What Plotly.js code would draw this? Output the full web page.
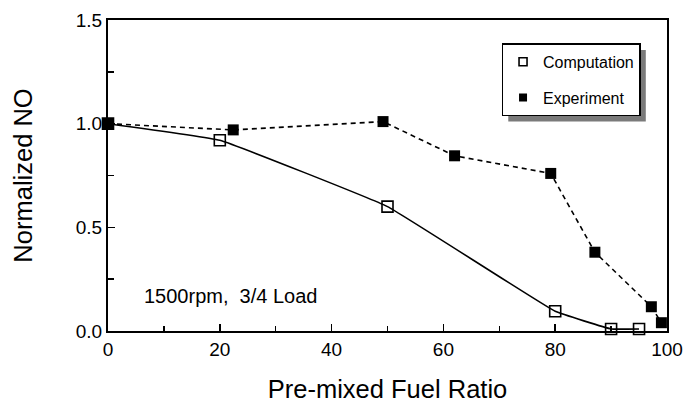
<!DOCTYPE html>
<html>
<head>
<meta charset="utf-8">
<script src="https://cdn.plot.ly/plotly-3.0.1.min.js"></script>
<style>html,body{margin:0;padding:0;background:#fff;}#chart{width:688px;height:403px;}</style>
</head>
<body>
<div id="chart"></div>
<script>
// Data
const compX = [0, 20, 50, 80, 90, 95];
const compY = [1.0, 0.92, 0.60, 0.095, 0.01, 0.01];
const expX = [0, 22.4, 49.2, 62, 79.2, 87.1, 97.2, 99];
const expY = [1.0, 0.97, 1.01, 0.845, 0.76, 0.38, 0.117, 0.04];
const seriesNames = ["Computation", "Experiment"];
const xTicks = [0, 20, 40, 60, 80, 100];
const yTicks = [0.0, 0.5, 1.0, 1.5];
const yTickText = ["0.0", "0.5", "1.0", "1.5"];
const noteText = "1500rpm,\u00a0\u00a03/4 Load";

const FONT = "Liberation Sans, Arial, Helvetica, sans-serif";

const traces = [
  {
    x: compX, y: compY, name: seriesNames[0], type: "scatter", mode: "lines+markers",
    line: {color: "#000", width: 1.6, shape: "spline", smoothing: 0.25},
    marker: {symbol: "square-open", size: 11, color: "#000", line: {width: 1.6, color: "#000"}},
    cliponaxis: false, showlegend: false
  },
  {
    x: expX, y: expY, name: seriesNames[1], type: "scatter", mode: "lines+markers",
    line: {color: "#000", width: 1.6, dash: "5px,4px"},
    marker: {symbol: "square", size: 11, color: "#000"},
    cliponaxis: false, showlegend: false
  },
  // legend proxies (markers only, as in the reference legend)
  {
    x: [null], y: [null], name: seriesNames[0], type: "scatter", mode: "markers",
    marker: {symbol: "square-open", size: 8, color: "#000", line: {width: 1.6, color: "#000"}},
    legendgroup: "a"
  },
  {
    x: [null], y: [null], name: seriesNames[1], type: "scatter", mode: "markers",
    marker: {symbol: "square", size: 8, color: "#000"},
    legendgroup: "b"
  }
];

const layout = {
  width: 688, height: 403,
  margin: {l: 108, r: 21, t: 20, b: 72},
  paper_bgcolor: "#fff", plot_bgcolor: "#fff",
  font: {family: FONT, color: "#000", size: 19},
  showlegend: true,
  legend: {
    x: 0.704, y: 0.925, xanchor: "left", yanchor: "top",
    bgcolor: "#fff", bordercolor: "#000", borderwidth: 1.5,
    font: {family: FONT, size: 16, color: "#000"},
    tracegroupgap: 12, itemclick: false
  },
  xaxis: {
    range: [0, 100], tickvals: xTicks, ticktext: xTicks.map(String),
    ticks: "inside", ticklen: 7, tickwidth: 1.5, tickcolor: "#000",
    minor: {tickvals: [10, 30, 50, 70, 90], ticks: "inside", ticklen: 5, tickwidth: 1.5, tickcolor: "#000"},
    showline: true, linewidth: 2, linecolor: "#000", mirror: true,
    showgrid: false, zeroline: false,
    tickfont: {size: 19},
    title: {text: "Pre-mixed Fuel Ratio", font: {size: 25.5}, standoff: 22}
  },
  yaxis: {
    range: [0, 1.5], tickvals: yTicks, ticktext: yTickText,
    ticks: "inside", ticklen: 7, tickwidth: 1.5, tickcolor: "#000",
    minor: {tickvals: [0.25, 0.75, 1.25], ticks: "inside", ticklen: 6, tickwidth: 1.5, tickcolor: "#000"},
    showline: true, linewidth: 2, linecolor: "#000", mirror: true,
    showgrid: false, zeroline: false,
    tickfont: {size: 19},
    title: {text: "Normalized NO", font: {size: 25.5}, standoff: 36}
  },
  annotations: [{
    x: 6.1, y: 0.17, xref: "x", yref: "y", xanchor: "left", yanchor: "middle",
    text: noteText, showarrow: false, font: {family: FONT, size: 20, color: "#000"}
  }],
  shapes: []
};

const gd = document.getElementById("chart");
Plotly.newPlot(gd, traces, layout, {displayModeBar: false, staticPlot: true}).then(function () {
  const bg = gd.querySelector(".legend .bg");
  if (!bg) return;
  const r = bg.getBoundingClientRect();
  const c = gd.getBoundingClientRect();
  const s = gd._fullLayout._size;
  const off = 6;
  const px2x = function (px) { return (px - c.left - s.l) / s.w; };
  const px2y = function (py) { return 1 - (py - c.top - s.t) / s.h; };
  Plotly.relayout(gd, {shapes: [{
    type: "rect", xref: "paper", yref: "paper", layer: "above",
    x0: px2x(r.left + off), x1: px2x(r.right + off),
    y0: px2y(r.bottom + off), y1: px2y(r.top + off),
    fillcolor: "#7a7a7a", line: {width: 0}
  }]});
});
</script>
</body>
</html>
